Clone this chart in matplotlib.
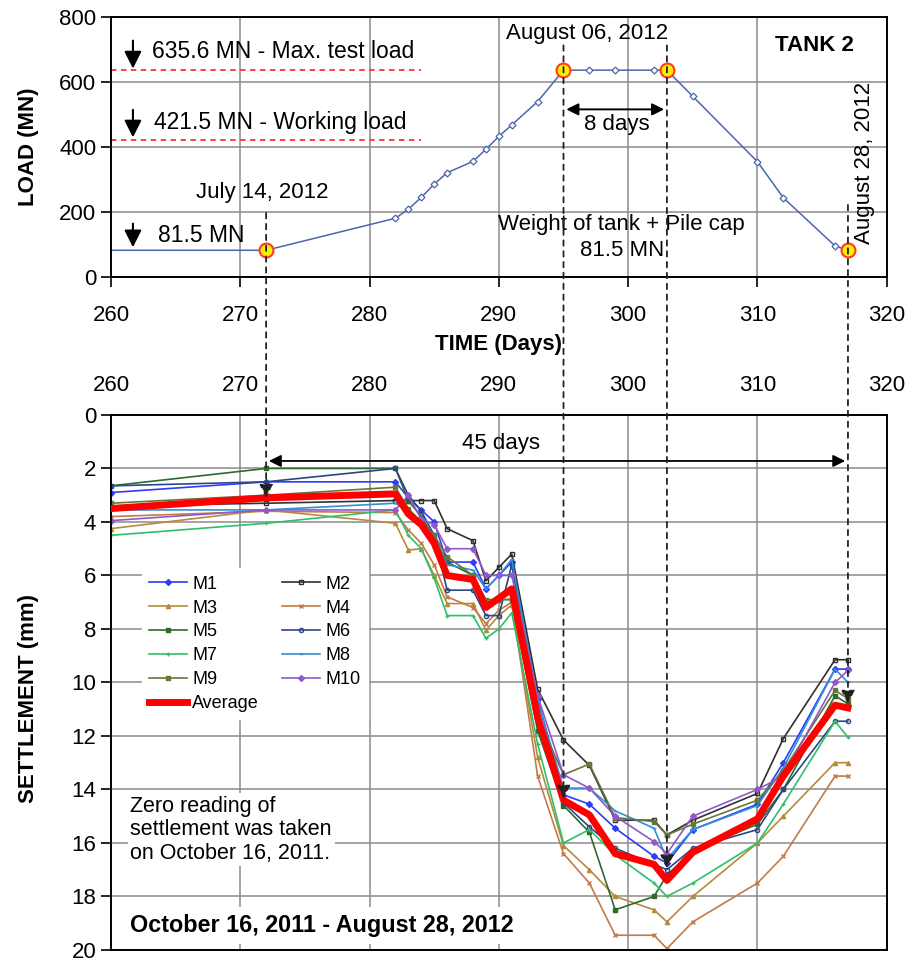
import matplotlib
matplotlib.use('Agg')
import matplotlib.pyplot as plt
from matplotlib.patches import ConnectionPatch

plt.rcParams['font.family'] = ['Liberation Sans', 'DejaVu Sans']

# Days (same reading times for load and settlement)
days = [260, 272, 282, 283, 284, 285, 286, 288, 289, 290, 291, 293,
        295, 297, 299, 302, 303, 305, 310, 312, 316, 317]

# Load on tank (MN)
load = [81.5, 81.5, 180, 208, 244, 285, 320, 355, 392, 432, 467, 539,
        635.6, 635.6, 635.6, 635.6, 635.6, 555, 354, 243, 95, 81.5]
key_idx = [1, 12, 16, 21]

# Settlement (mm)
m1 = [2.9, 2.5, 2.5, 3.1, 3.55, 4.0, 5.5, 5.5, 6.5, 6.0, 5.5, 10.6,
      14.2, 14.55, 15.45, 16.5, 16.75, 15.5, 14.55, 13.0, 9.5, 9.5]
m2 = [3.4, 3.3, 3.2, 3.2, 3.2, 3.2, 4.25, 4.7, 6.2, 5.7, 5.2, 10.25,
      12.15, 13.1, 15.15, 15.15, 15.7, 15.15, 14.15, 12.1, 9.15, 9.15]
m3 = [4.25, 3.55, 4.05, 5.05, 5.0, 6.0, 7.05, 7.05, 8.05, 7.5, 7.1, 12.8,
      16.1, 17.0, 18.0, 18.5, 18.95, 18.0, 16.0, 15.0, 13.0, 13.0]
m4 = [3.8, 3.6, 3.65, 4.3, 4.8, 5.6, 6.8, 7.2, 7.8, 7.3, 7.0, 13.5,
      16.4, 17.5, 19.45, 19.45, 19.95, 18.95, 17.5, 16.5, 13.5, 13.5]
m5 = [2.65, 2.0, 2.0, 3.2, 3.8, 4.6, 5.5, 6.0, 7.0, 6.9, 6.9, 11.8,
      14.6, 15.6, 18.5, 18.0, 17.2, 16.3, 15.3, 14.0, 10.5, 10.8]
m6 = [2.65, 2.5, 2.0, 3.0, 3.6, 4.5, 6.55, 6.55, 7.5, 7.5, 5.6, 11.0,
      14.5, 15.4, 16.2, 16.8, 17.0, 16.2, 15.5, 14.0, 11.45, 11.45]
m7 = [4.5, 4.05, 3.55, 4.5, 5.0, 6.1, 7.5, 7.5, 8.35, 8.0, 7.4, 12.3,
      16.0, 15.5, 16.45, 17.5, 18.0, 17.5, 16.0, 14.55, 11.45, 12.05]
m8 = [3.55, 3.55, 3.3, 3.6, 4.0, 4.5, 5.6, 5.8, 6.5, 6.0, 5.4, 10.7,
      13.95, 13.95, 14.8, 15.45, 16.6, 15.5, 14.6, 13.2, 9.5, 10.0]
m9 = [3.3, 3.0, 2.7, 3.5, 4.0, 4.5, 5.3, 6.0, 6.9, 6.9, 6.9, 11.3,
      13.45, 13.05, 15.05, 15.2, 15.7, 15.3, 14.4, 13.3, 10.3, 10.6]
m10 = [3.95, 3.55, 3.55, 3.0, 3.9, 4.1, 5.0, 5.0, 6.0, 6.0, 6.0, 10.5,
       13.45, 13.95, 15.0, 15.95, 16.4, 15.0, 14.0, 13.5, 10.0, 9.55]
avg = [3.5, 3.1, 2.95, 3.7, 4.1, 4.8, 6.0, 6.15, 7.2, 6.85, 6.5, 11.3,
       14.4, 14.95, 16.4, 16.8, 17.4, 16.35, 15.1, 13.5, 10.85, 10.95]

series = [
    ('M1', m1, '#2f3cf5', 'D', 'full'),
    ('M2', m2, '#303030', 's', 'none'),
    ('M3', m3, '#b58a3c', '^', 'full'),
    ('M4', m4, '#c47a45', 'x', 'full'),
    ('M5', m5, '#2d6a2d', 's', 'full'),
    ('M6', m6, '#2b4785', 'o', 'none'),
    ('M7', m7, '#2fbf6a', '+', 'full'),
    ('M8', m8, '#2f8fd8', '_', 'full'),
    ('M9', m9, '#66773a', 's', 'full'),
    ('M10', m10, '#9158c9', 'D', 'full'),
]

fig = plt.figure(figsize=(9.17, 9.61), dpi=100)
ax1 = fig.add_axes([0.121, 0.712, 0.846, 0.2706])
ax2 = fig.add_axes([0.121, 0.0115, 0.846, 0.5567])

grid_kw = dict(color='#8c8c8c', linewidth=1.1)
fs = 16

# ---------------- top: load vs time ----------------
ax1.plot(days, load, '-', color='#4a68a8', lw=1.1, marker='D', ms=3.5,
         mfc='white', mec='#4a68a8', mew=0.9, markevery=list(range(1, len(days))))
ax1.plot([days[i] for i in key_idx], [load[i] for i in key_idx], 'o', ms=10,
         mfc='#ffee00', mec='#ff3b1f', mew=1.5, zorder=5)

ax1.plot([260, 284], [635.6, 635.6], '--', color='#ff3030', lw=1.3, dashes=(3, 2.5))
ax1.plot([260, 284], [421.5, 421.5], '--', color='#ff3030', lw=1.3, dashes=(3, 2.5))

for y0, y1 in [(735, 632), (522, 420), (172, 82)]:
    ax1.annotate('', xy=(261.7, y1), xytext=(261.7, y0),
                 arrowprops=dict(arrowstyle='-|>', color='black', lw=1.5,
                                 mutation_scale=26))

ax1.text(263.2, 692, '635.6 MN - Max. test load', fontsize=16.5, va='center')
ax1.text(263.3, 474, '421.5 MN - Working load', fontsize=16.5, va='center')
ax1.text(263.6, 126, '81.5 MN', fontsize=16.5, va='center')
ax1.text(271.7, 258, 'July 14, 2012', fontsize=fs, ha='center', va='center')
ax1.text(296.8, 748, 'August 06, 2012', fontsize=fs, ha='center', va='center')
ax1.text(314.4, 712, 'TANK 2', fontsize=fs, fontweight='bold', ha='center', va='center')
ax1.text(318.3, 351, 'August 28, 2012', fontsize=fs, ha='center', va='center', rotation=90)
ax1.text(299.5, 121, 'Weight of tank + Pile cap\n81.5 MN', fontsize=fs,
         ha='center', va='center', multialignment='center', linespacing=1.3)
ax1.text(299.1, 468, '8 days', fontsize=fs, ha='center', va='center')
ax1.annotate('', xy=(295, 515), xytext=(303, 515),
             arrowprops=dict(arrowstyle='<|-|>', color='black', lw=1.4, mutation_scale=18))

ax1.set_xlim(260, 320)
ax1.set_ylim(0, 800)
ax1.set_xticks(range(260, 321, 10))
ax1.set_yticks(range(0, 801, 200))
ax1.grid(True, **grid_kw)
ax1.set_axisbelow(True)
ax1.tick_params(labelsize=fs, direction='out', length=7, width=1.2)
ax1.tick_params(axis='x', pad=13)
ax1.set_xlabel('TIME (Days)', fontsize=fs, fontweight='bold', labelpad=6)
ax1.set_ylabel('LOAD (MN)', fontsize=fs, fontweight='bold')
ax1.yaxis.set_label_coords(-0.093, 0.5)
for sp in ax1.spines.values():
    sp.set_linewidth(1.4)

# ---------------- bottom: settlement vs time ----------------
handles = {}
for name, vals, col, mk, fill in series:
    handles[name], = ax2.plot(days, vals, '-', color=col, lw=1.2, marker=mk, ms=3,
                              fillstyle=fill, mew=1.0, label=name)
handles['Average'], = ax2.plot(days, avg, '-', color='#ff0000', lw=5,
                               label='Average', zorder=4)

ax2.set_xlim(260, 320)
ax2.set_ylim(20, 0)
ax2.set_xticks(range(260, 321, 10))
ax2.set_yticks(range(0, 21, 2))
ax2.xaxis.tick_top()
ax2.grid(True, **grid_kw)
ax2.set_axisbelow(True)
ax2.tick_params(labelsize=fs, direction='out', length=7, width=1.2)
ax2.tick_params(axis='x', length=0, pad=14)
ax2.set_ylabel('SETTLEMENT (mm)', fontsize=fs, fontweight='bold')
ax2.yaxis.set_label_coords(-0.093, 0.47)
for sp in ax2.spines.values():
    sp.set_linewidth(1.4)

order = ['M1', 'M3', 'M5', 'M7', 'M9', 'Average', 'M2', 'M4', 'M6', 'M8', 'M10']
leg = ax2.legend([handles[k] for k in order], order, loc='upper left',
                 bbox_to_anchor=(0.028, 0.73), ncol=2,
                 fontsize=13, frameon=True, fancybox=False, handlelength=2.1,
                 handletextpad=0.3, labelspacing=0.38, columnspacing=1.3,
                 borderpad=0.4)
leg.get_frame().set_facecolor('white')
leg.get_frame().set_edgecolor('white')
leg.get_frame().set_alpha(1)
leg.set_zorder(6)

ax2.annotate('', xy=(272, 1.72), xytext=(317, 1.72),
             arrowprops=dict(arrowstyle='<|-|>', color='black', lw=1.3, mutation_scale=18))
ax2.text(290.2, 1.05, '45 days', fontsize=fs, ha='center', va='center')
ax2.text(261.5, 15.5, 'Zero reading of\nsettlement was taken\non October 16, 2011.',
         fontsize=15.5, va='center', linespacing=1.16, zorder=6,
         bbox=dict(facecolor='white', edgecolor='none', pad=2))
ax2.text(261.5, 19.1, 'October 16, 2011 - August 28, 2012', fontsize=16.8,
         fontweight='bold', va='center', zorder=6,
         bbox=dict(facecolor='white', edgecolor='none', pad=5))

# dashed guides linking the two charts
links = [(272, 196, 3.1), (295, 712, 14.35), (303, 712, 16.95), (317, 221, 10.8)]
for d, ytop, ybot in links:
    con = ConnectionPatch(xyA=(d, ytop), coordsA=ax1.transData,
                          xyB=(d, ybot), coordsB=ax2.transData,
                          arrowstyle='-|>', mutation_scale=20, color='#222222',
                          linestyle=(0, (3, 3)), lw=1.3, zorder=10)
    fig.add_artist(con)

fig.savefig('out.png', dpi=100)
